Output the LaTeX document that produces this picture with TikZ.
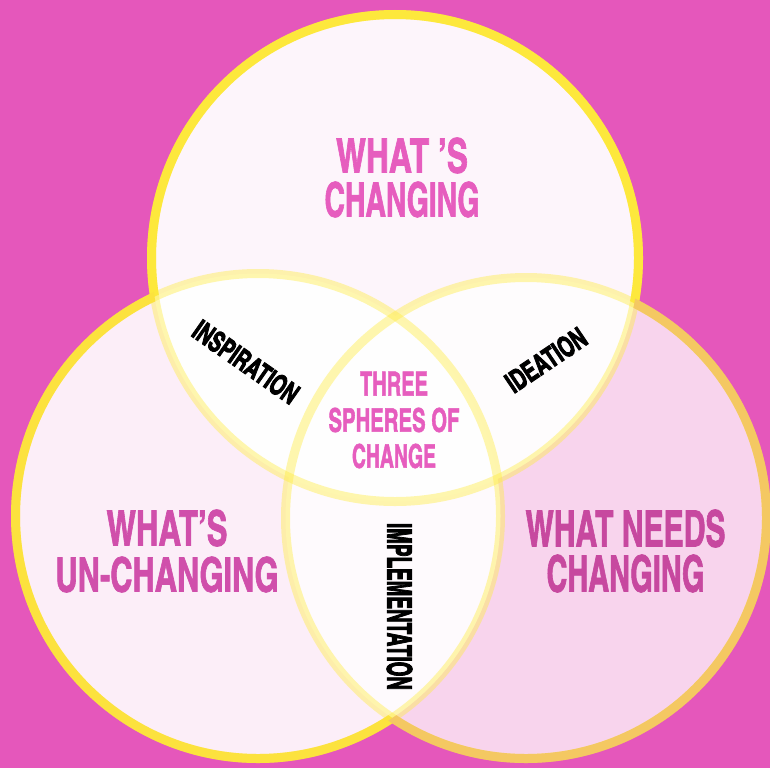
\documentclass[tikz,border=0pt]{standalone}
\usepackage{fontspec}
\usepackage{graphicx}
\newfontfamily\pinkfont[FakeBold=1.6]{texgyreheroscn-bold.otf}
\newfontfamily\blackfont[FakeBold=3.2]{texgyreheroscn-bold.otf}
\newcommand{\fitline}[3]{\resizebox{#1}{#2}{#3}}
\definecolor{bgmag}{HTML}{E557BB}
\definecolor{ringpale}{HTML}{FFEC40}
\definecolor{ringtop}{HTML}{FDE83C}
\definecolor{ringleft}{HTML}{FCE23E}
\definecolor{ringright}{HTML}{F4C862}
\definecolor{txttop}{HTML}{E65DBE}
\definecolor{txtleft}{HTML}{D04FAB}
\definecolor{txtright}{HTML}{C7489F}
\tikzset{
  ring/.style={line width=9pt},
  pinktxt/.style={inner sep=0pt, align=center},
  blacktxt/.style={inner sep=0pt, text=black, font=\blackfont},
}
\begin{document}
\begin{tikzpicture}[x=1pt,y=-1pt]
\useasboundingbox (0,0) rectangle (770,768);
\fill[bgmag] (0,0) rectangle (770,768);
\coordinate (ct) at (395,258);
\coordinate (cl) at (258,516);
\coordinate (cr) at (526,518);
% translucent fills
\fill[white, fill opacity=0.94] (ct) circle[radius=243.5pt];
\fill[white, fill opacity=0.90] (cl) circle[radius=242.5pt];
\fill[white, fill opacity=0.744] (cr) circle[radius=240.5pt];
% pale rings everywhere
\draw[ring, draw=ringpale, draw opacity=0.42] (ct) circle[radius=243.5pt];
\draw[ring, draw=ringpale, draw opacity=0.42] (cl) circle[radius=242.5pt];
\draw[ring, draw=ringpale, draw opacity=0.42] (cr) circle[radius=240.5pt];
% bright parts outside the other circles
\begin{scope}[even odd rule]
  \clip (-20,-20) rectangle (790,790) (cl) circle[radius=242.5pt];
  \clip (-20,-20) rectangle (790,790) (cr) circle[radius=240.5pt];
  \draw[ring, draw=ringtop] (ct) circle[radius=243.5pt];
\end{scope}
\begin{scope}[even odd rule]
  \clip (-20,-20) rectangle (790,790) (ct) circle[radius=243.5pt];
  \clip (-20,-20) rectangle (790,790) (cr) circle[radius=240.5pt];
  \draw[ring, draw=ringleft] (cl) circle[radius=242.5pt];
\end{scope}
\begin{scope}[even odd rule]
  \clip (-20,-20) rectangle (790,790) (ct) circle[radius=243.5pt];
  \clip (-20,-20) rectangle (790,790) (cl) circle[radius=242.5pt];
  \draw[ring, draw=ringright] (cr) circle[radius=240.5pt];
\end{scope}
% pink titles
\node[pinktxt, text=txttop, font=\pinkfont\fontsize{10pt}{44pt}\selectfont] (changing) at (402,177.5)
  {\fitline{132pt}{35pt}{WHAT ’S}\\\fitline{155pt}{35pt}{CHANGING}};
\node[pinktxt, text=txttop, font=\pinkfont\fontsize{10pt}{36pt}\selectfont] (spheres) at (394,420)
  {\fitline{68pt}{24pt}{THREE}\\\fitline{131pt}{24pt}{SPHERES OF}\\\fitline{84pt}{24pt}{CHANGE}};
\node[pinktxt, text=txtleft, font=\pinkfont\fontsize{10pt}{46pt}\selectfont] (unchanging) at (167,551)
  {\fitline{121pt}{36pt}{WHAT’S}\\\fitline{223pt}{35pt}{UN-CHANGING}};
\node[pinktxt, text=txtright, font=\pinkfont\fontsize{10pt}{45pt}\selectfont] (needs) at (625.5,551)
  {\fitline{200pt}{37pt}{WHAT NEEDS}\\\fitline{158pt}{37pt}{CHANGING}};
% black labels
\node[blacktxt, rotate=-35] (inspiration) at (246,362) {\fitline{122pt}{21pt}{INSPIRATION}};
\node[blacktxt, rotate=34] (ideation) at (546,360) {\fitline{91pt}{21pt}{IDEATION}};
\node[blacktxt, rotate=-90] (implementation) at (399.5,606.5) {\fitline{167pt}{25pt}{IMPLEMENTATION}};
\end{tikzpicture}
\end{document}
